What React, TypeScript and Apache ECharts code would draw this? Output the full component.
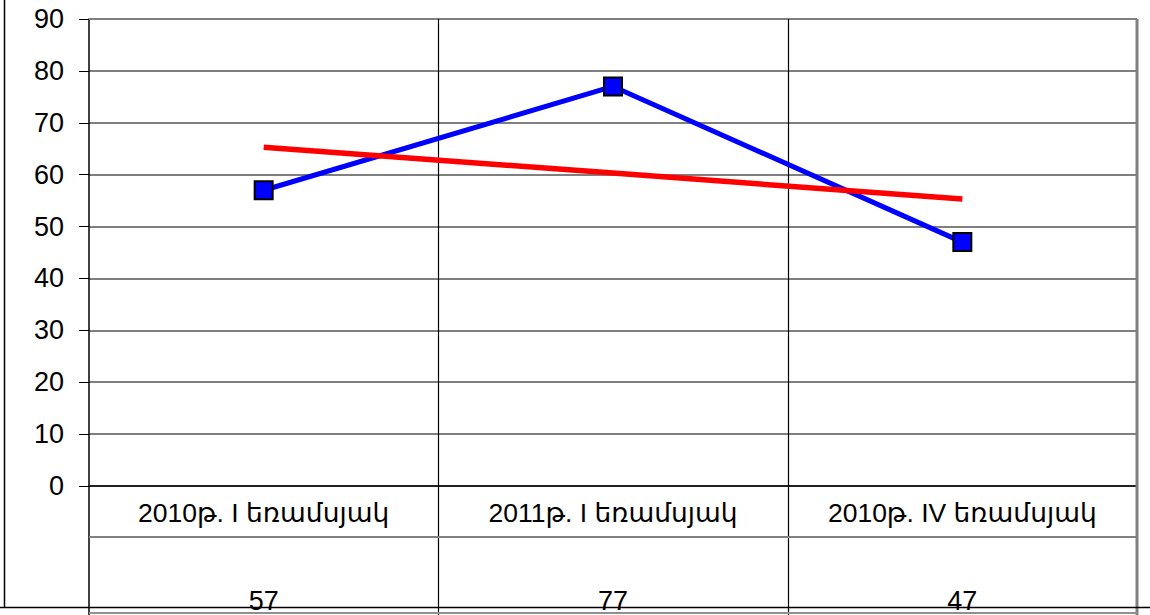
import React, { useEffect, useRef } from "react";
import * as echarts from "echarts";

const categories = ["2010թ. I եռամսյակ", "2011թ. I եռամսյակ", "2010թ. IV եռամսյակ"];
const values = [57, 77, 47];
const trendValues = [65.3, 60.3, 55.3];
const yTicks = [0, 10, 20, 30, 40, 50, 60, 70, 80, 90];

const FONT = "'Liberation Sans', 'DejaVu Sans', Arial, sans-serif";

export default function App() {
  const ref = useRef<HTMLDivElement>(null);
  useEffect(() => {
    const el = ref.current!;
    const chart = echarts.init(el, null, { renderer: "svg" });
    const option: any = {
      animation: false,
      backgroundColor: "#ffffff",
      grid: { left: 89, right: 13, top: 19, bottom: 129, containLabel: false },
      xAxis: {
        type: "category",
        data: categories,
        boundaryGap: true,
        axisLine: { show: true, lineStyle: { color: "#222222", width: 2 } },
        axisTick: { show: false },
        axisLabel: { show: false },
        splitLine: { show: false },
      },
      yAxis: {
        type: "value",
        min: yTicks[0],
        max: yTicks[yTicks.length - 1],
        interval: 10,
        axisLine: { show: true, lineStyle: { color: "#000000", width: 1.5 } },
        axisTick: { show: true, length: 10, lineStyle: { color: "#000000", width: 1 } },
        axisLabel: { margin: 25, fontSize: 27, color: "#000000", fontFamily: FONT },
        splitLine: { show: true, lineStyle: { color: "#555555", width: 1.5 } },
      },
      series: [
        {
          type: "line",
          data: values,
          symbol: "rect",
          symbolSize: 18,
          lineStyle: { color: "#0000FF", width: 5 },
          itemStyle: { color: "#0000FF", borderColor: "#000000", borderWidth: 2 },
          z: 2,
        },
        {
          type: "line",
          data: trendValues,
          symbol: "none",
          lineStyle: { color: "#FF0000", width: 5.5 },
          z: 3,
        },
      ],
    };
    chart.setOption(option);

    const yTop = chart.convertToPixel({ yAxisIndex: 0 }, yTicks[yTicks.length - 1]) as number;
    const yZero = chart.convertToPixel({ yAxisIndex: 0 }, 0) as number;
    const centers = categories.map((c) => chart.convertToPixel({ xAxisIndex: 0 }, c) as number);
    const half = centers.length > 1 ? (centers[1] - centers[0]) / 2 : 0;
    const left = centers[0] - half;
    const right = centers[centers.length - 1] + half;
    const bottom = 615;

    const elements: any[] = [];
    elements.push({ type: "line", shape: { x1: left, y1: yTop, x2: right, y2: yTop }, style: { stroke: "#808080", lineWidth: 2 }, z: 1 });
    elements.push({ type: "line", shape: { x1: right, y1: yTop, x2: right, y2: bottom }, style: { stroke: "#808080", lineWidth: 3 }, z: 1 });
    for (let i = 0; i < centers.length - 1; i++) {
      const x = Math.round(centers[i] + half) + 0.5;
      elements.push({ type: "line", shape: { x1: x, y1: yTop, x2: x, y2: bottom }, style: { stroke: "#000000", lineWidth: 1.2 }, z: 1 });
    }
    elements.push({ type: "line", shape: { x1: left, y1: yZero, x2: left, y2: bottom }, style: { stroke: "#000000", lineWidth: 1.5 }, z: 1 });
    elements.push({ type: "line", shape: { x1: left, y1: 537, x2: right, y2: 537 }, style: { stroke: "#808080", lineWidth: 2 }, z: 1 });
    elements.push({ type: "line", shape: { x1: left, y1: 613, x2: right, y2: 613 }, style: { stroke: "#909090", lineWidth: 2 }, z: 1 });
    categories.forEach((c, i) => {
      elements.push({
        type: "text",
        x: centers[i],
        y: 513,
        style: { text: c, fontSize: 26.5, fontFamily: FONT, fill: "#000000", align: "center", verticalAlign: "middle" },
        z: 2,
      });
      elements.push({
        type: "text",
        x: centers[i],
        y: 601,
        style: { text: String(values[i]), fontSize: 27, fontFamily: FONT, fill: "#000000", align: "center", verticalAlign: "middle" },
        z: 2,
      });
    });
    elements.push({ type: "line", shape: { x1: 4.5, y1: 0, x2: 4.5, y2: 607 }, style: { stroke: "#000000", lineWidth: 1.5 }, z: 5 });
    elements.push({ type: "line", shape: { x1: 0, y1: 607.5, x2: 1150, y2: 607.5 }, style: { stroke: "#000000", lineWidth: 1.5 }, z: 5 });

    chart.setOption({ graphic: { elements } });

    return () => chart.dispose();
  }, []);
  return <div ref={ref} style={{ width: 1150, height: 615, position: "absolute", left: 0, top: 0 }} />;
}
